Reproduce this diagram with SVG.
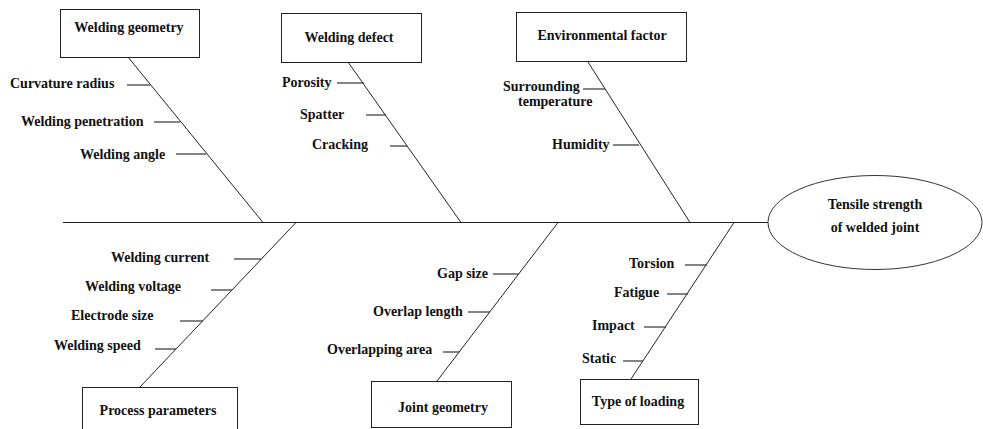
<svg xmlns="http://www.w3.org/2000/svg" width="983" height="429" viewBox="0 0 983 429">
<style>
text{font-family:"Liberation Serif","Times New Roman",serif;font-weight:bold;font-size:14px;fill:#111}
.c{text-anchor:middle}
.box{fill:#fff;stroke:#222;stroke-width:1}
.ln{stroke:#222;stroke-width:1;fill:none}
.tk{stroke:#333;stroke-width:1.2;fill:none}
</style>
<rect width="983" height="429" fill="#fff"/>
<g id="connectors">
<line class="ln" x1="63" y1="222.5" x2="768" y2="222.5"/>
<line class="ln" x1="128" y1="57" x2="263" y2="222.5"/>
<line class="ln" x1="348" y1="62" x2="461" y2="222.5"/>
<line class="ln" x1="588" y1="62" x2="690" y2="222.5"/>
<line class="ln" x1="296" y1="222.5" x2="140" y2="387"/>
<line class="ln" x1="558" y1="222.5" x2="437" y2="381"/>
<line class="ln" x1="734" y1="222.5" x2="631" y2="379"/>
<line class="tk" x1="127" y1="85" x2="150" y2="85"/>
<line class="tk" x1="154" y1="122" x2="180" y2="122"/>
<line class="tk" x1="176" y1="154" x2="206" y2="154"/>
<line class="tk" x1="337" y1="83" x2="364" y2="83"/>
<line class="tk" x1="366" y1="115" x2="386" y2="115"/>
<line class="tk" x1="390" y1="146" x2="407" y2="146"/>
<line class="tk" x1="583" y1="89" x2="605" y2="89"/>
<line class="tk" x1="613" y1="145" x2="639" y2="145"/>
<line class="tk" x1="234" y1="259" x2="261" y2="259"/>
<line class="tk" x1="211" y1="290" x2="232" y2="290"/>
<line class="tk" x1="180" y1="321" x2="203" y2="321"/>
<line class="tk" x1="155" y1="349" x2="176" y2="349"/>
<line class="tk" x1="493" y1="274" x2="519" y2="274"/>
<line class="tk" x1="468" y1="312" x2="490" y2="312"/>
<line class="tk" x1="443" y1="352" x2="459" y2="352"/>
<line class="tk" x1="685" y1="265" x2="707" y2="265"/>
<line class="tk" x1="667" y1="294" x2="688" y2="294"/>
<line class="tk" x1="644" y1="327" x2="666" y2="327"/>
<line class="tk" x1="623" y1="361" x2="643" y2="361"/>
</g>
<g id="welding-geometry">
<rect class="box" x="60.5" y="9.5" width="139" height="48"/>
<text class="c" x="129" y="32">Welding geometry</text>
<text x="10" y="88">Curvature radius</text>
<text x="21" y="126">Welding penetration</text>
<text x="80" y="159">Welding angle</text>
</g>
<g id="welding-defect">
<rect class="box" x="281.5" y="13.5" width="140" height="49"/>
<text class="c" x="349" y="42">Welding defect</text>
<text x="282" y="87">Porosity</text>
<text x="300" y="119">Spatter</text>
<text x="312" y="149">Cracking</text>
</g>
<g id="environmental-factor">
<rect class="box" x="516.5" y="12.5" width="170" height="49"/>
<text class="c" x="602" y="40">Environmental factor</text>
<text x="503" y="91">Surrounding</text>
<text x="518" y="106">temperature</text>
<text x="552" y="149">Humidity</text>
</g>
<g id="tensile-strength">
<ellipse cx="875" cy="222.5" rx="107" ry="47" fill="#fff" stroke="#333" stroke-width="1"/>
<text class="c" x="875" y="209">Tensile strength</text>
<text class="c" x="875" y="232">of welded joint</text>
</g>
<g id="process-parameters">
<rect class="box" x="82.5" y="387.5" width="155" height="50"/>
<text class="c" x="158" y="415">Process parameters</text>
<text x="111" y="262">Welding current</text>
<text x="85" y="291">Welding voltage</text>
<text x="71" y="320">Electrode size</text>
<text x="54" y="350">Welding speed</text>
</g>
<g id="joint-geometry">
<rect class="box" x="371.5" y="381.5" width="140" height="46"/>
<text class="c" x="443" y="412">Joint geometry</text>
<text x="437" y="278">Gap size</text>
<text x="373" y="316">Overlap length</text>
<text x="327" y="354">Overlapping area</text>
</g>
<g id="type-of-loading">
<rect class="box" x="580.5" y="379.5" width="118" height="45"/>
<text class="c" x="638" y="406">Type of loading</text>
<text x="629" y="268">Torsion</text>
<text x="614" y="297">Fatigue</text>
<text x="592" y="330">Impact</text>
<text x="582" y="363">Static</text>
</g>
</svg>
